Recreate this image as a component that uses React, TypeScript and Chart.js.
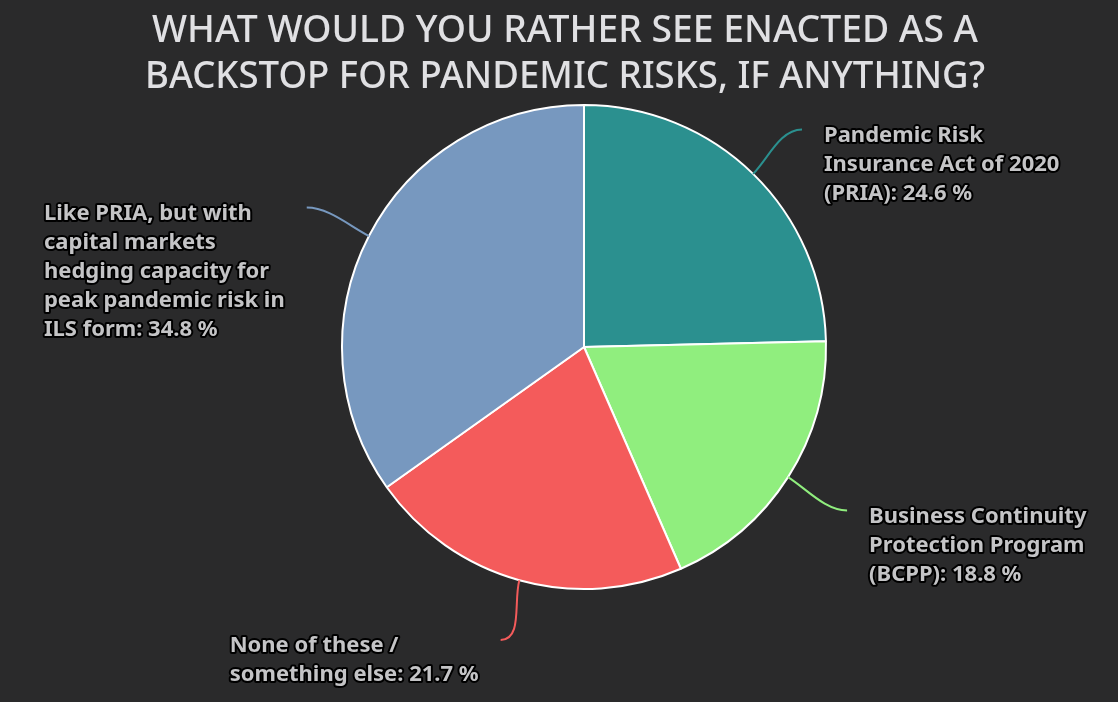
import React, { useEffect, useRef } from "react";
import { Chart, registerables } from "chart.js";

Chart.register(...registerables);

const titleLines = ["WHAT WOULD YOU RATHER SEE ENACTED AS A", "BACKSTOP FOR PANDEMIC RISKS, IF ANYTHING?"];
const categories = [
  "Pandemic Risk Insurance Act of 2020 (PRIA)",
  "Business Continuity Protection Program (BCPP)",
  "None of these / something else",
  "Like PRIA, but with capital markets hedging capacity for peak pandemic risk in ILS form",
];
const values = [24.6, 18.8, 21.7, 34.8];
const colors = ["#2b908f", "#90ee7e", "#f45b5b", "#7798BF"];

const BG = "#2a2a2b";
const LABEL_FONT = "bold 22px 'Noto Sans'";
const LINE_H = 29;
const WRAP_W = 258;

function wrap(ctx: CanvasRenderingContext2D, text: string, maxW: number): string[] {
  const words = text.split(" ");
  const lines: string[] = [];
  let cur = "";
  for (const w of words) {
    const t = cur ? cur + " " + w : w;
    if (ctx.measureText(t).width > maxW && cur) {
      lines.push(cur);
      cur = w;
    } else cur = t;
  }
  if (cur) lines.push(cur);
  return lines;
}

const titlePlugin = {
  id: "customTitle",
  beforeDraw(chart: any) {
    const ctx = chart.ctx as CanvasRenderingContext2D;
    ctx.save();
    ctx.fillStyle = BG;
    ctx.fillRect(0, 0, chart.width, chart.height);
    ctx.fillStyle = "#E0E0E3";
    ctx.font = "500 36px 'Noto Sans'";
    ctx.textBaseline = "alphabetic";
    ctx.textAlign = "center";
    const targets = [826, 840];
    const baselines = [42, 88];
    titleLines.forEach((line, i) => {
      const w = ctx.measureText(line).width;
      const s = targets[i] / w;
      ctx.save();
      ctx.translate(565, baselines[i]);
      ctx.scale(s, 1.04);
      ctx.fillText(line, 0, 0);
      ctx.restore();
    });
    ctx.restore();
  },
};

const labelPlugin = {
  id: "pieLabels",
  afterDatasetsDraw(chart: any) {
    const ctx = chart.ctx as CanvasRenderingContext2D;
    const meta = chart.getDatasetMeta(0);
    ctx.save();
    ctx.font = LABEL_FONT;
    meta.data.forEach((arc: any, i: number) => {
      const { x, y, startAngle, endAngle, outerRadius } = arc.getProps(
        ["x", "y", "startAngle", "endAngle", "outerRadius"],
        true
      );
      const mid = (startAngle + endAngle) / 2;
      const cos = Math.cos(mid);
      const sin = Math.sin(mid);
      const r = outerRadius;
      const ex = x + r * cos;
      const ey = y + r * sin;
      const lx = x + (r + 70) * cos;
      const ly = y + (r + 62) * sin;
      const right = cos >= 0;
      const dir = right ? 1 : -1;
      // connector
      ctx.strokeStyle = colors[i];
      ctx.lineWidth = 2;
      ctx.beginPath();
      ctx.moveTo(lx, ly);
      const bx = x + (r + 22) * cos;
      const by = y + (r + 22) * sin;
      ctx.bezierCurveTo(lx - dir * 22, ly, bx, by, ex, ey);
      ctx.stroke();
      // text
      const text = categories[i] + ": " + values[i].toFixed(1) + " %";
      const lines = wrap(ctx, text, WRAP_W);
      const blockW = Math.max(...lines.map((l) => ctx.measureText(l).width));
      const tx = right ? lx + 22 : lx - 22 - blockW;
      ctx.textAlign = "left";
      ctx.textBaseline = "middle";
      ctx.lineJoin = "round";
      lines.forEach((ln, k) => {
        const yy = ly + 6 + k * LINE_H;
        ctx.strokeStyle = "#000000";
        ctx.lineWidth = 4;
        ctx.strokeText(ln, tx, yy);
        ctx.fillStyle = "#C4C4C6";
        ctx.fillText(ln, tx, yy);
      });
    });
    ctx.restore();
  },
};

export default function App() {
  const ref = useRef<HTMLCanvasElement>(null);
  useEffect(() => {
    document.body.style.margin = "0";
    document.body.style.background = BG;
    const chart = new Chart(ref.current as HTMLCanvasElement, {
      type: "pie",
      data: {
        labels: categories,
        datasets: [
          {
            data: values,
            backgroundColor: colors,
            borderColor: "#ffffff",
            borderWidth: 2,
          },
        ],
      },
      options: {
        animation: false,
        responsive: false,
        events: [],
        layout: { padding: { top: 104, bottom: 112, left: 341, right: 291 } },
        plugins: {
          legend: { display: false },
          tooltip: { enabled: false },
          title: { display: false },
        },
      },
      plugins: [titlePlugin, labelPlugin],
    });
    return () => chart.destroy();
  }, []);
  return (
    <div style={{ width: 1118, height: 702, background: BG }}>
      <canvas ref={ref} width={1118} height={702} style={{ display: "block" }} />
    </div>
  );
}
